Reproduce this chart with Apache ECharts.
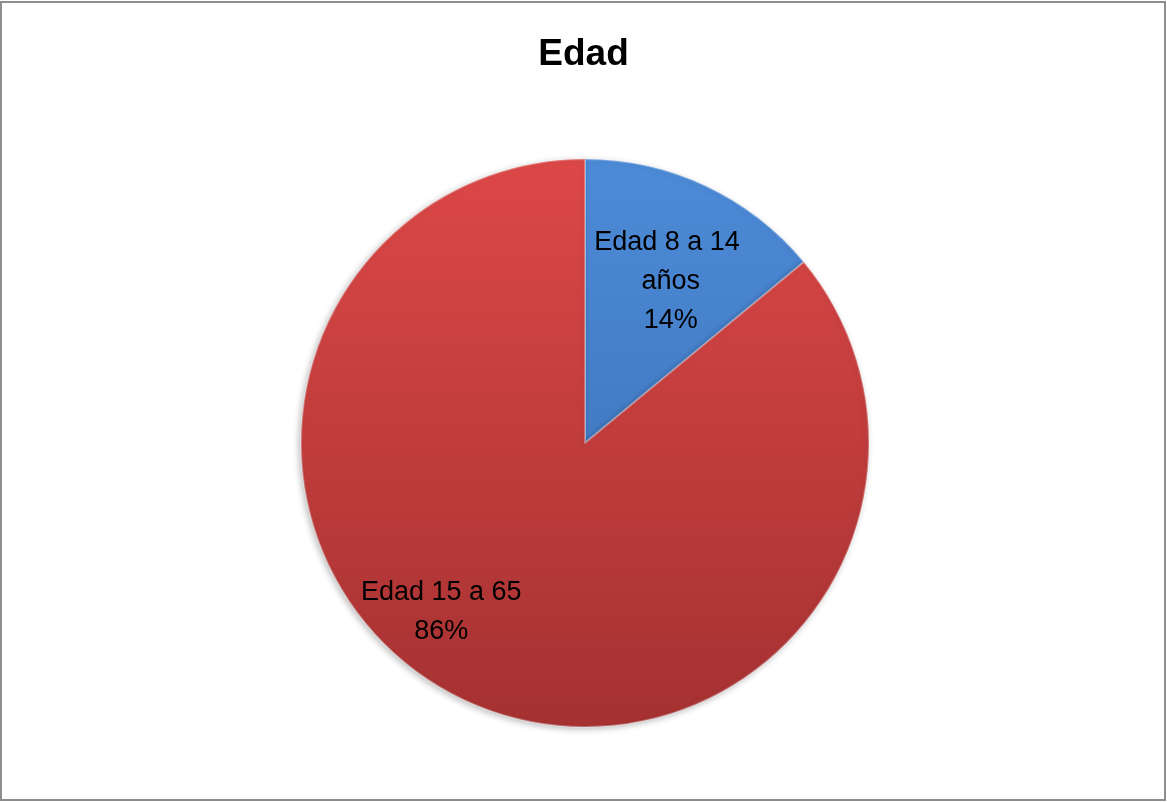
<!DOCTYPE html>
<html>
<head>
<meta charset="utf-8">
<script src="https://cdn.jsdelivr.net/npm/echarts@6/dist/echarts.min.js"></script>
<style>
  html, body { margin: 0; padding: 0; background: #fff; }
  #chart { position: absolute; left: 0; top: 0; width: 1167px; height: 802px; }
  #frame { position: absolute; left: 0; top: 1px; width: 1166px; height: 800px;
           box-sizing: border-box; border: 2px solid #8e8e8e; pointer-events: none; }
</style>
</head>
<body>
<div id="chart"></div>
<div id="frame"></div>
<script>
// Age groups and their share of the total (percent)
const categories = ['Edad 8 a 14 años', 'Edad 15 a 65'];
const values = [14, 86];
const chartTitle = 'Edad';

const cx = 585, cy = 443, R = 284;

function vGrad(top, bottom) {
  return new echarts.graphic.LinearGradient(0, cy - R, 0, cy + R, [
    { offset: 0, color: top },
    { offset: 1, color: bottom }
  ], true);
}

const fills = [vGrad('#4d8bd8', '#386bb0'), vGrad('#dd4848', '#a53131')];
const labelOffsets = [[24, -30], [-82, 38]];
const labelWidths = [155, 230];

const chart = echarts.init(document.getElementById('chart'), null, { renderer: 'canvas' });
chart.setOption({
  animation: false,
  backgroundColor: '#ffffff',
  title: {
    text: chartTitle,
    left: 'center',
    top: 31,
    textStyle: { fontFamily: 'Liberation Sans', fontWeight: 'bold', fontSize: 37, color: '#000' }
  },
  series: [{
    type: 'pie',
    center: [cx, cy],
    radius: [0, R],
    startAngle: 90,
    clockwise: true,
    itemStyle: {
      borderColor: 'rgba(255,255,255,0.28)',
      borderWidth: 2,
      shadowBlur: 6,
      shadowColor: 'rgba(0,0,0,0.25)',
      shadowOffsetX: -2,
      shadowOffsetY: 2
    },
    label: {
      show: true,
      position: 'inside',
      fontFamily: 'Liberation Sans',
      fontSize: 27,
      lineHeight: 39,
      color: '#000',
      align: 'center',
      overflow: 'break',
      formatter: p => p.name + '\n' + p.value + '%'
    },
    labelLine: { show: false },
    emphasis: { disabled: true },
    data: categories.map((name, i) => ({
      name,
      value: values[i],
      itemStyle: { color: fills[i] },
      label: { offset: labelOffsets[i], width: labelWidths[i] }
    }))
  }]
});
</script>
</body>
</html>
